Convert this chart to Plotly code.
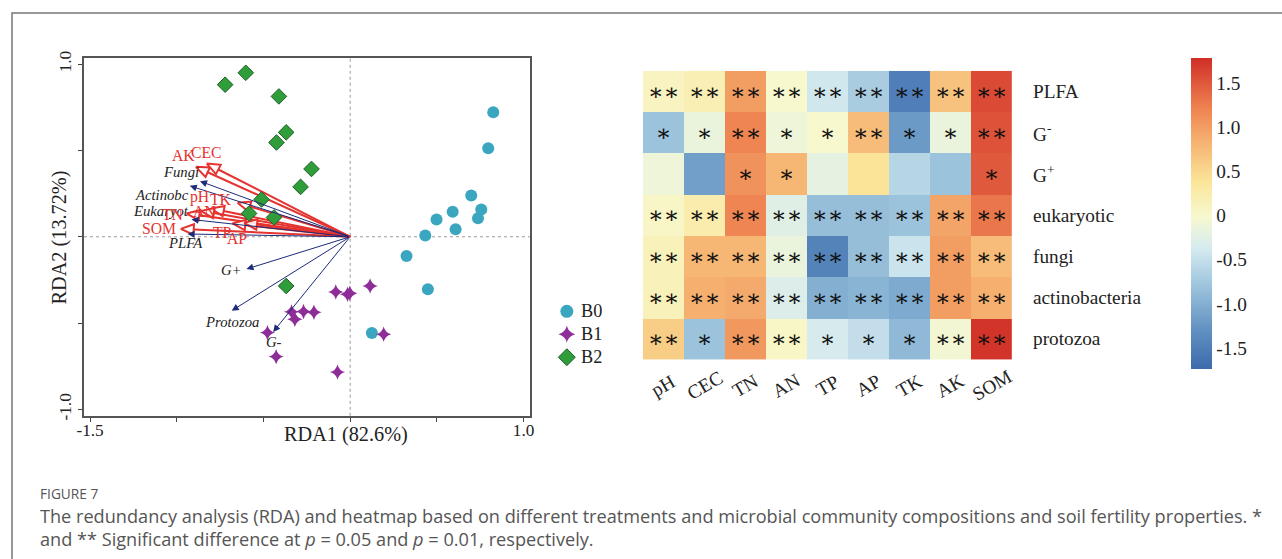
import math
import plotly.graph_objects as go

# Measured figure-to-picture transform (picture = a * figure_px + b); positions below are
# given in picture pixels and converted with it.
AX, BX, AY, BY = 0.991, 5.0, 0.981, 6.0
W, H = 1290, 567
FS = 1 / 0.986  # font compensation

# ---------------- RDA data ----------------
b0_x = [0.825, 0.796, 0.698, 0.591, 0.756, 0.737, 0.498, 0.608, 0.433, 0.325, 0.448, 0.125]
b0_y = [0.721, 0.513, 0.239, 0.145, 0.158, 0.108, 0.100, 0.043, 0.008, -0.112, -0.304, -0.557]
b1_x = [0.115, -0.083, -0.015, -0.002, -0.338, -0.269, -0.209, -0.319, -0.477, -0.427, -0.073, 0.193]
b1_y = [-0.285, -0.320, -0.333, -0.327, -0.435, -0.433, -0.437, -0.478, -0.555, -0.694, -0.784, -0.564]
b2_x = [-0.721, -0.602, -0.411, -0.369, -0.425, -0.223, -0.286, -0.511, -0.583, -0.439, -0.369]
b2_y = [0.881, 0.950, 0.813, 0.605, 0.546, 0.393, 0.289, 0.216, 0.135, 0.112, -0.285]

soil_names = ["AK", "CEC", "pH", "TK", "AN", "TN", "SOM", "TP", "AP"]
soil_x = [-0.890, -0.827, -0.803, -0.650, -0.860, -0.944, -0.977, -0.679, -0.612]
soil_y = [0.405, 0.424, 0.164, 0.197, 0.150, 0.135, 0.046, 0.077, 0.081]
soil_lab_x = [-0.961, -0.829, -0.866, -0.746, -0.842, -1.025, -1.102, -0.736, -0.650]
soil_lab_y = [0.468, 0.488, 0.231, 0.216, 0.145, 0.131, 0.049, 0.023, -0.009]

mic_names = ["Fungi", "Actinobc", "Eukaryot", "PLFA", "G+", "Protozoa", "G-"]
mic_x = [-0.866, -0.925, -0.915, -0.938, -0.598, -0.683, -0.444]
mic_y = [0.322, 0.295, 0.100, 0.016, -0.187, -0.428, -0.551]
mic_lab_x = [-0.977, -1.083, -1.088, -0.948, -0.684, -0.683, -0.441]
mic_lab_y = [0.376, 0.241, 0.150, -0.035, -0.192, -0.491, -0.607]

groups = ["B0", "B1", "B2"]

# ---------------- Heatmap data ----------------
soil_cols = ["pH", "CEC", "TN", "AN", "TP", "AP", "TK", "AK", "SOM"]
row_labels = ["PLFA", "G<sup>-</sup>", "G<sup>+</sup>", "eukaryotic", "fungi", "actinobacteria", "protozoa"]
r_plfa = [0.10, 0.20, 1.00, 0.00, -0.40, -0.70, -1.50, 0.70, 1.60]
r_gneg = [-0.80, -0.15, 1.20, -0.10, 0.00, 0.75, -1.20, -0.15, 1.55]
r_gpos = [-0.10, -1.15, 1.10, 0.80, -0.20, 0.40, -0.60, -0.80, 1.50]
r_euk = [0.05, 0.25, 1.20, -0.25, -0.85, -0.85, -0.80, 0.95, 1.30]
r_fungi = [0.15, 0.80, 0.80, -0.15, -1.45, -0.85, -0.45, 1.00, 0.75]
r_actino = [0.15, 0.85, 0.90, -0.30, -1.00, -0.95, -1.05, 1.00, 0.85]
r_proto = [0.60, -0.80, 1.05, 0.05, -0.35, -0.50, -0.90, -0.05, 1.75]
s_plfa = ["**"] * 9
s_gneg = ["*", "*", "**", "*", "*", "**", "*", "*", "**"]
s_gpos = ["", "", "*", "*", "", "", "", "", "*"]
s_euk = ["**"] * 9
s_fungi = ["**"] * 9
s_actino = ["**"] * 9
s_proto = ["**", "*", "**", "**", "*", "*", "*", "**", "**"]
cbar_vals = [-1.5, -1.0, -0.5, 0, 0.5, 1.0, 1.5]
cbar_text = ["-1.5", "-1.0", "-0.5", "0", "0.5", "1.0", "1.5"]

z = [r_plfa, r_gneg, r_gpos, r_euk, r_fungi, r_actino, r_proto]
sig = [s_plfa, s_gneg, s_gpos, s_euk, s_fungi, s_actino, s_proto]
sig_txt = [[s.replace("*", "\u2217") for s in row] for row in sig]

SERIF = "Liberation Serif"
RED = "#e5332f"
NAVY = "#1d2b78"
GROUP_STYLE = {
    "B0": dict(symbol="circle", size=12, color="#3ba6c0", line=dict(width=0)),
    "B1": dict(symbol="star-diamond", size=11, color="#8e2c98", line=dict(width=0)),
    "B2": dict(symbol="diamond", size=12, color="#2f9e3a", line=dict(width=1, color="#1f5e24")),
}


def pxx(x):
    return (x - BX) / AX / W


def pyy(y):
    return 1 - (y - BY) / AY / H


def f(s):
    return s * FS


fig = go.Figure()

# red arrows (soil properties) with open triangle heads
L, Wd = 0.075, 0.030
for nm, tx, ty in zip(soil_names, soil_x, soil_y):
    d = math.hypot(tx, ty)
    ux, uy = tx / d, ty / d
    nx, ny = -uy, ux
    bx, by = tx - L * ux, ty - L * uy
    fig.add_trace(go.Scatter(x=[0, bx], y=[0, by], mode="lines",
                             line=dict(color=RED, width=2), showlegend=False, hoverinfo="skip",
                             xaxis="x", yaxis="y"))
    fig.add_trace(go.Scatter(x=[tx, bx + Wd * nx, bx - Wd * nx, tx],
                             y=[ty, by + Wd * ny, by - Wd * ny, ty], mode="lines",
                             fill="toself", fillcolor="rgba(255,255,255,0.85)",
                             line=dict(color=RED, width=2), showlegend=False, hoverinfo="skip",
                             xaxis="x", yaxis="y"))

# sample points
for g, gx, gy in zip(groups, [b0_x, b1_x, b2_x], [b0_y, b1_y, b2_y]):
    fig.add_trace(go.Scatter(x=gx, y=gy, mode="markers", name=g, marker=GROUP_STYLE[g],
                             showlegend=False, xaxis="x", yaxis="y"))

# legend (own small axis in picture-pixel units)
leg_y = [311, 334, 357]
for g, ly in zip(groups, leg_y):
    st = dict(GROUP_STYLE[g])
    st["size"] = st["size"] + 1
    fig.add_trace(go.Scatter(x=[0.5], y=[ly], mode="markers", marker=st, showlegend=False,
                             hoverinfo="skip", xaxis="x3", yaxis="y3"))

annotations = []
for g, ly in zip(groups, leg_y):
    annotations.append(dict(x=pxx(576), y=ly, xref="paper", yref="y3", text=g, xanchor="left",
                            yanchor="middle", showarrow=False,
                            font=dict(family=SERIF, size=f(18), color="#222")))

# blue arrows
for tx, ty in zip(mic_x, mic_y):
    annotations.append(dict(x=tx, y=ty, ax=0, ay=0, xref="x", yref="y", axref="x", ayref="y",
                            text="", showarrow=True, arrowhead=2, arrowsize=1.4, arrowwidth=1,
                            arrowcolor=NAVY))
for nm, lx, ly in zip(mic_names, mic_lab_x, mic_lab_y):
    annotations.append(dict(x=lx, y=ly, xref="x", yref="y", text="<i>%s</i>" % nm, showarrow=False,
                            xanchor="center", yanchor="middle",
                            font=dict(family=SERIF, size=f(14.5), color="#222222")))
for nm, lx, ly in zip(soil_names, soil_lab_x, soil_lab_y):
    annotations.append(dict(x=lx, y=ly, xref="x", yref="y", text=nm, showarrow=False,
                            xanchor="center", yanchor="middle",
                            font=dict(family=SERIF, size=f(15.5), color=RED)))

# axis titles for RDA
annotations.append(dict(x=pxx(343), y=pyy(434), xref="paper", yref="paper", text="RDA1 (82.6%)",
                        xanchor="center", yanchor="middle",
                        showarrow=False, font=dict(family=SERIF, size=f(20), color="#222")))
annotations.append(dict(x=pxx(57), y=pyy(237), xref="paper", yref="paper", text="RDA2 (13.72%)",
                        xanchor="center", yanchor="middle",
                        textangle=-90, showarrow=False, font=dict(family=SERIF, size=f(20), color="#222")))

# heatmap
fig.add_trace(go.Heatmap(
    z=z, x=soil_cols, y=row_labels, text=sig_txt, texttemplate="%{text}",
    textfont=dict(family="DejaVu Serif", size=f(23), color="#111"),
    zmin=-1.734, zmax=1.79, xaxis="x2", yaxis="y2", hoverinfo="skip",
    colorscale=[[0.0, "#3d6aac"], [0.12, "#5f8fc1"], [0.27, "#9ec5dd"], [0.39, "#d6ebf0"],
                [0.49, "#f7f8cf"], [0.60, "#fbe69a"], [0.72, "#f6b674"], [0.84, "#ee8250"],
                [1.0, "#d02e27"]],
    colorbar=dict(x=pxx(1188), xanchor="left", y=pyy(212.5), yanchor="middle",
                  len=(368.3 - 56.7) / AY / H, lenmode="fraction", thickness=21 / AX, outlinewidth=0,
                  tickvals=cbar_vals, ticktext=cbar_text, ticks="", ticklabelposition="outside",
                  tickfont=dict(family=SERIF, size=f(19), color="#222"), xpad=0, ypad=0)
))

for c in soil_cols:
    annotations.append(dict(x=c, y=pyy(385), xref="x2", yref="paper", text=c, textangle=-30,
                            xanchor="center", yanchor="middle",
                            showarrow=False, font=dict(family=SERIF, size=f(19), color="#222")))
for r in row_labels:
    annotations.append(dict(x=pxx(1028), y=r, xref="paper", yref="y2", text=r, xanchor="left",
                            yanchor="middle",
                            showarrow=False, font=dict(family=SERIF, size=f(19), color="#222")))

# caption
annotations.append(dict(x=pxx(35), y=pyy(494), xref="paper", yref="paper", xanchor="left",
                        yanchor="middle", text="FIGURE 7", showarrow=False,
                        font=dict(family="Open Sans", size=f(13.5), color="#555")))
annotations.append(dict(x=pxx(35), y=pyy(516), xref="paper", yref="paper", xanchor="left",
                        yanchor="middle",
                        text="The redundancy analysis (RDA) and heatmap based on different treatments and microbial community compositions and soil fertility properties. *",
                        showarrow=False, font=dict(family="Open Sans", size=f(17.9), color="#555")))
annotations.append(dict(x=pxx(35), y=pyy(539), xref="paper", yref="paper", xanchor="left",
                        yanchor="middle",
                        text="and ** Significant difference at <i>p</i> = 0.05 and <i>p</i> = 0.01, respectively.",
                        showarrow=False, font=dict(family="Open Sans", size=f(17.9), color="#555")))

shapes = [
    dict(type="line", xref="x", yref="y domain", x0=0, x1=0, y0=0, y1=1,
         line=dict(color="#9a9a9a", width=1, dash="dot"), layer="below"),
    dict(type="line", xref="x domain", yref="y", x0=0, x1=1, y0=0, y1=0,
         line=dict(color="#9a9a9a", width=1, dash="dot"), layer="below"),
    dict(type="rect", xref="paper", yref="paper", x0=pxx(9), x1=1.05, y0=-0.05, y1=pyy(12),
         line=dict(color="#777", width=1.5), layer="below"),
]

fig.update_layout(
    width=W, height=H, margin=dict(l=0, r=0, t=0, b=0),
    paper_bgcolor="white", plot_bgcolor="white", showlegend=False,
    xaxis=dict(domain=[pxx(81), pxx(527)], range=[-1.535, 1.036],
               tickvals=[-1.5, -1.0, -0.5, 0, 0.5, 1.0], ticktext=["-1.5", "", "", "", "", "1.0"],
               ticks="outside", ticklen=4, tickcolor="#444", showgrid=False, zeroline=False,
               showline=True, linecolor="#555", linewidth=1.5, mirror=True, ticklabelstandoff=-6,
               tickfont=dict(family=SERIF, size=f(17), color="#222"), anchor="y"),
    yaxis=dict(domain=[pyy(415.7), pyy(56.7)], range=[-1.037, 1.038],
               tickvals=[-1.0, -0.5, 0, 0.5, 1.0], ticktext=["-1.0", "", "", "", "1.0"],
               tickangle=-90, ticks="outside", ticklen=4, tickcolor="#444", showgrid=False,
               zeroline=False, showline=True, linecolor="#555", linewidth=1.5, mirror=True,
               tickfont=dict(family=SERIF, size=f(17), color="#222"), anchor="x"),
    xaxis2=dict(domain=[pxx(640), pxx(1015)], anchor="y2", showticklabels=False, ticks="",
                showgrid=False, zeroline=False, showline=False),
    yaxis2=dict(domain=[pyy(359.3), pyy(70)], anchor="x2", autorange="reversed",
                showticklabels=False, ticks="", showgrid=False, zeroline=False, showline=False),
    xaxis3=dict(domain=[pxx(554), pxx(574)], range=[0, 1], anchor="y3", visible=False),
    yaxis3=dict(domain=[pyy(380), pyy(290)], range=[380, 290], anchor="x3", visible=False),
    annotations=annotations, shapes=shapes,
)

fig.write_html("out.html")
